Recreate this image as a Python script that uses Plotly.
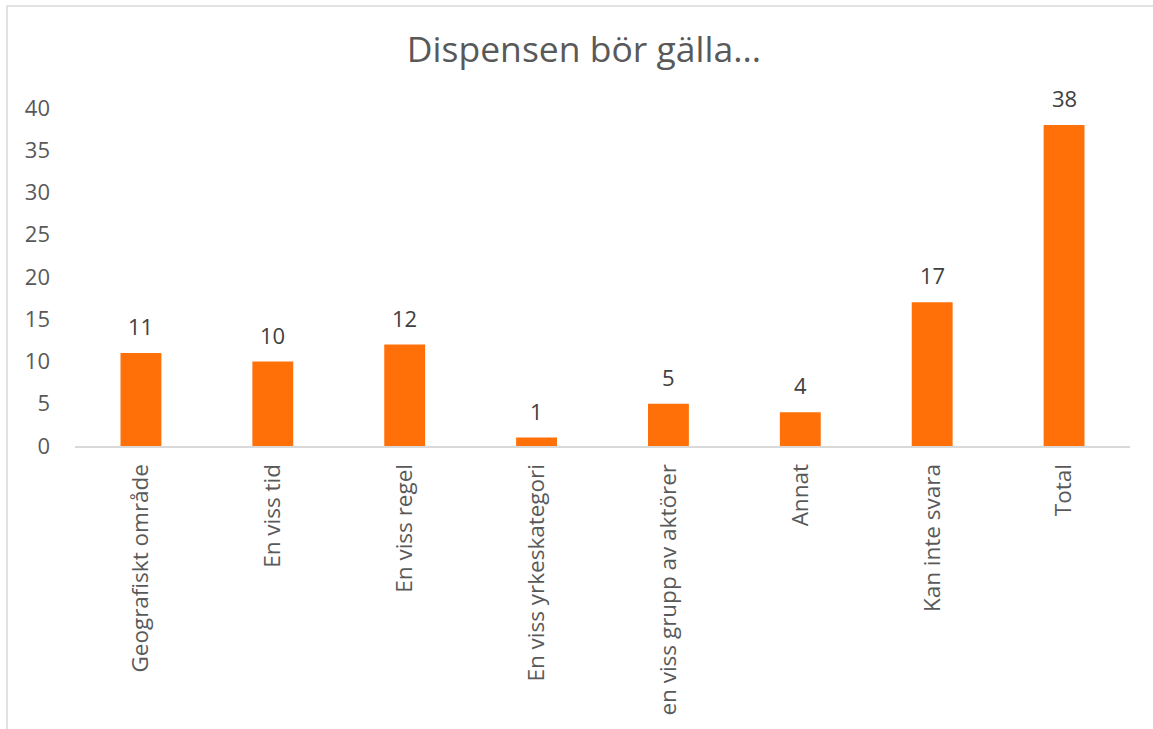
import plotly.graph_objects as go

categories = ["Geografiskt område", "En viss tid", "En viss regel", "En viss yrkeskategori",
              "en viss grupp av aktörer", "Annat", "Kan inte svara", "Total"]
values = [11, 10, 12, 1, 5, 4, 17, 38]
y_ticks = [0, 5, 10, 15, 20, 25, 30, 35, 40]

W, H = 1153, 729
ml, mr, mt, mb = 75, 23, 108, 283
pw, ph = W - ml - mr, H - mt - mb

fig = go.Figure(go.Bar(
    x=categories, y=values,
    marker=dict(color="#FF7009", line=dict(width=0)),
    hoverinfo="x+y",
))

for c, v in zip(categories, values):
    fig.add_annotation(x=c, y=v, text=str(v), showarrow=False,
                       yanchor="bottom", yshift=10,
                       font=dict(size=22, color="#404040"))

fig.update_layout(
    width=W, height=H,
    margin=dict(l=ml, r=mr, t=mt, b=mb),
    paper_bgcolor="white", plot_bgcolor="white",
    font=dict(family="Open Sans", color="#595959"),
    title=dict(text="Dispensen bör gälla...", x=584 / W, xanchor="center",
               y=1 - 50 / H, yanchor="middle",
               font=dict(size=35.5, color="#595959")),
    bargap=0.69,
    showlegend=False,
    xaxis=dict(tickangle=-90, tickfont=dict(size=22.5, color="#595959"),
               showline=True, linecolor="#D9D9D9", linewidth=2, automargin=False,
               ticks="", showgrid=False, ticklabelstandoff=7),
    yaxis=dict(range=[0, 40], tickvals=y_ticks, showgrid=False, zeroline=False,
               showline=False, ticks="", tickfont=dict(size=22, color="#595959"),
               ticklabelstandoff=24, automargin=False),
)

fig.add_shape(type="rect", xref="paper", yref="paper",
              x0=(7 - ml) / pw, x1=(1170 - ml) / pw,
              y0=-2, y1=(H - mb - 6) / ph,
              line=dict(color="#D9D9D9", width=1.5), fillcolor="rgba(0,0,0,0)", layer="below")

fig.write_html("out.html", config={"displayModeBar": False},
               post_script="document.body.style.margin='0';document.body.style.overflow='hidden';")
